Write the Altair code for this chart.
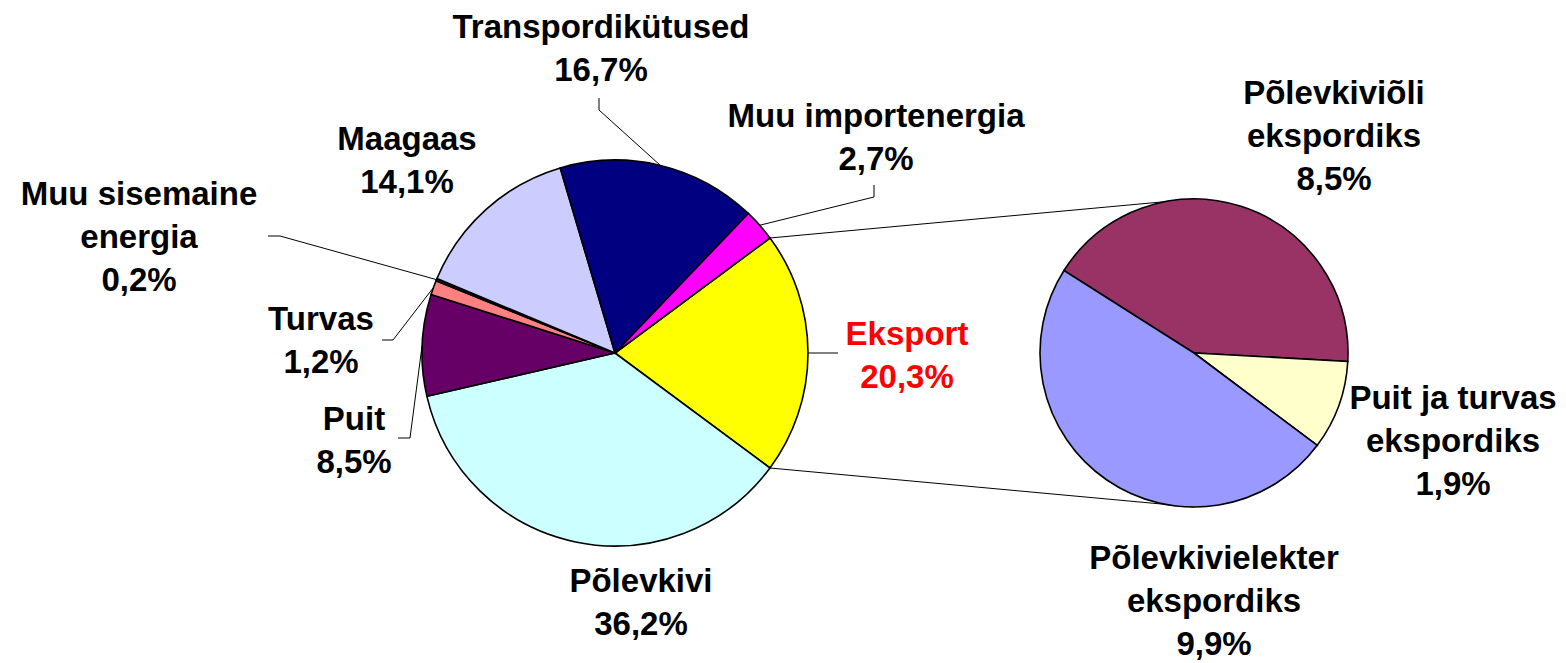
import math
import altair as alt
import pandas as pd

# ---------------- data ----------------
main_names = ["Eksport", "Põlevkivi", "Puit", "Turvas", "Muu sisemaine energia",
              "Maagaas", "Transpordikütused", "Muu importenergia"]
main_label_names = ["Eksport", "Põlevkivi", "Puit", "Turvas", "Muu sisemaine\nenergia",
                    "Maagaas", "Transpordikütused", "Muu importenergia"]
main_values = [20.3, 36.2, 8.5, 1.2, 0.2, 14.1, 16.7, 2.7]

sub_names = ["Põlevkiviõli ekspordiks", "Puit ja turvas ekspordiks", "Põlevkivielekter ekspordiks"]
sub_label_names = ["Põlevkiviõli\nekspordiks", "Puit ja turvas\nekspordiks", "Põlevkivielekter\nekspordiks"]
sub_values = [8.5, 1.9, 9.9]

# ---------------- styles / layout ----------------
main_colors = ["#FFFF00", "#CCFFFF", "#660066", "#FF8080", "#1A1A4D", "#CCCCFF", "#000080", "#FF00FF"]
sub_colors = ["#993366", "#FFFFCC", "#9999FF"]

W, H = 1550, 655
M = 8  # page margin
C1 = (615 - M, 353 - M); R1 = 193
C2 = (1194 - M, 353 - M); R2 = 154
START1 = math.radians(90) - math.pi * main_values[0] / sum(main_values)
START2 = math.radians(302.4)

# label anchor (centre x, first baseline y) in page pixels
label_pos = {
    "Eksport": (907, 345), "Põlevkivi": (641, 592), "Puit": (354, 430),
    "Turvas": (321, 330), "Muu sisemaine energia": (139, 205), "Maagaas": (407, 150),
    "Transpordikütused": (601, 38), "Muu importenergia": (876, 127),
    "Põlevkiviõli ekspordiks": (1334, 104), "Puit ja turvas ekspordiks": (1453, 409),
    "Põlevkivielekter ekspordiks": (1214, 569),
}
label_color = {"Eksport": "#FF0000"}
# leader lines: stub end and elbow (page pixels); third point = slice edge
leaders = {
    "Transpordikütused": [(599, 98), (599, 110)],
    "Muu importenergia": [(874, 185), (874, 197)],
    "Muu sisemaine energia": [(268, 236), (280, 236)],
    "Turvas": [(382, 340), (393, 340)],
    "Puit": [(398, 438), (410, 438)],
    "Eksport": [(838, 353), (838, 353)],
}

FONT = "Arial, Liberation Sans, sans-serif"
FS = 33
LH = 43


def pct(v):
    return f"{v:.1f}%".replace(".", ",")


main_df = pd.DataFrame({"name": main_names, "value": main_values, "idx": range(len(main_names))})
sub_df = pd.DataFrame({"name": sub_names, "value": sub_values, "idx": range(len(sub_names))})

all_names = main_names + sub_names
all_colors = main_colors + sub_colors
color_scale = alt.Scale(domain=all_names, range=all_colors)

xs = alt.Scale(domain=[0, W], range=[0, W])
ys = alt.Scale(domain=[0, H], range=[0, H])


def pie(df, center, r, start):
    return alt.Chart(df).mark_arc(stroke="black", strokeWidth=1.6, outerRadius=r).encode(
        theta=alt.Theta("value:Q", stack=True,
                        scale=alt.Scale(range=[start, start + 2 * math.pi])),
        order=alt.Order("idx:Q"),
        color=alt.Color("name:N", scale=color_scale, legend=None),
        x=alt.value(center[0]), y=alt.value(center[1]),
    )


main_pie = pie(main_df, C1, R1, START1)
sub_pie = pie(sub_df, C2, R2, START2)


def edge_point(values, i, center, r, start, frac=0.5):
    tot = sum(values)
    a = start + 2 * math.pi * (sum(values[:i]) + values[i] * frac) / tot
    return center[0] + r * math.sin(a), center[1] - r * math.cos(a)


# leader lines + connector lines
rows = []
for name, pts in leaders.items():
    i = main_names.index(name)
    ex, ey = edge_point(main_values, i, C1, R1, START1)
    seq = [(pts[0][0] - M, pts[0][1] - M), (pts[1][0] - M, pts[1][1] - M), (ex, ey)]
    for k, (px, py) in enumerate(seq):
        rows.append({"x": px, "y": py, "grp": name, "ord": k})
# connectors from the Eksport slice to the second pie
p_top = edge_point(main_values, 0, C1, R1, START1, frac=0.0)
p_bot = edge_point(main_values, 0, C1, R1, START1, frac=1.0)
for k, (px, py) in enumerate([p_top, (C2[0], C2[1] - R2)]):
    rows.append({"x": px, "y": py, "grp": "conn_top", "ord": k})
for k, (px, py) in enumerate([p_bot, (C2[0], C2[1] + R2)]):
    rows.append({"x": px, "y": py, "grp": "conn_bot", "ord": k})
lines_df = pd.DataFrame(rows)

lines = alt.Chart(lines_df).mark_line(color="black", strokeWidth=1).encode(
    x=alt.X("x:Q", scale=xs, axis=None),
    y=alt.Y("y:Q", scale=ys, axis=None),
    detail="grp:N",
    order="ord:Q",
)

# labels
lab_rows = []
for n, ln, v in list(zip(main_names, main_label_names, main_values)) + list(zip(sub_names, sub_label_names, sub_values)):
    px, py = label_pos[n]
    lab_rows.append({"name": n, "text": ln + "\n" + pct(v), "lx": px - M, "ly": py - M,
                     "tc": label_color.get(n, "#000000")})
lab_df = pd.DataFrame(lab_rows)

labels = alt.Chart(lab_df).mark_text(
    font=FONT, fontSize=FS, fontWeight="bold", align="center", baseline="alphabetic",
    lineBreak="\n", lineHeight=LH,
).encode(
    x=alt.X("lx:Q", scale=xs, axis=None),
    y=alt.Y("ly:Q", scale=ys, axis=None),
    text="text:N",
    color=alt.Color("tc:N", scale=None),
)

chart = alt.layer(lines, main_pie, sub_pie, labels).resolve_scale(
    theta="independent", color="independent"
).properties(
    width=W, height=H, autosize="none", padding=0
).configure_view(stroke=None)

chart.save("out.html", embed_options={"renderer": "svg", "actions": False})
